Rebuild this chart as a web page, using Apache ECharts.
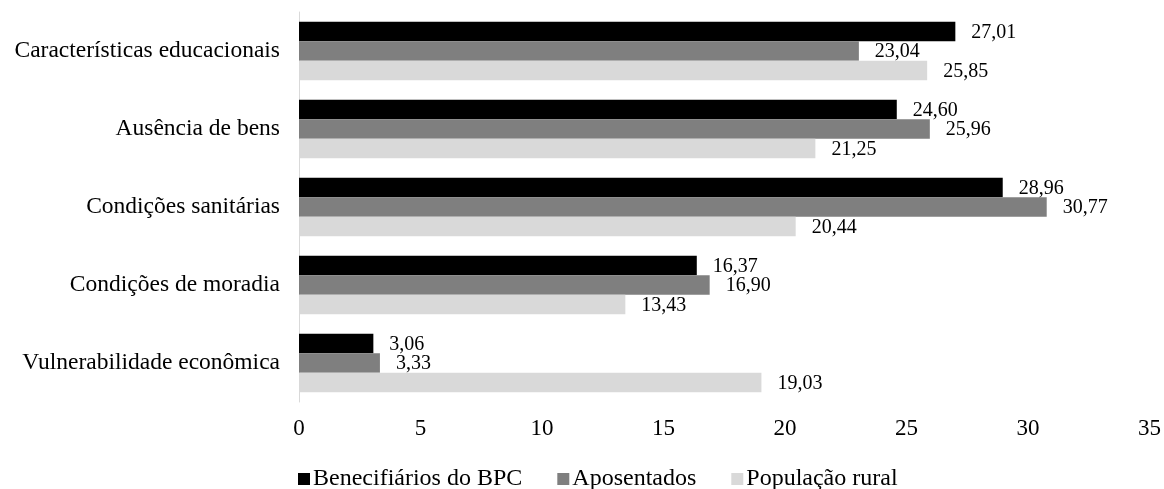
<!DOCTYPE html>
<html>
<head>
<meta charset="utf-8">
<style>
  html, body { margin: 0; padding: 0; background: #ffffff; }
  #chart { width: 1164px; height: 489px; }
</style>
<script src="https://cdn.jsdelivr.net/npm/echarts@6/dist/echarts.min.js"></script>
</head>
<body>
<div id="chart"></div>
<script>
// Dimensions of deprivation, listed top to bottom
const categories = [
  'Características educacionais',
  'Ausência de bens',
  'Condições sanitárias',
  'Condições de moradia',
  'Vulnerabilidade econômica'
];
const seriesNames = ['Benecifiários do BPC', 'Aposentados', 'População rural'];
const bpc = [27.01, 24.60, 28.96, 16.37, 3.06];
const aposentados = [23.04, 25.96, 30.77, 16.90, 3.33];
const rural = [25.85, 21.25, 20.44, 13.43, 19.03];
const xTicks = [0, 5, 10, 15, 20, 25, 30, 35];

const colors = ['#000000', '#7f7f7f', '#d9d9d9'];
const serif = '"Liberation Serif", "DejaVu Serif", serif';

// category axis is drawn bottom-up, so reverse for top-down order
const cats = categories.slice().reverse();
const rev = a => a.slice().reverse();

function barSeries(name, values, color) {
  return {
    name: name,
    type: 'bar',
    data: rev(values),
    barGap: '0%',
    barCategoryGap: '25%',
    itemStyle: { color: color },
    label: {
      show: true,
      position: 'right',
      distance: 16,
      offset: [0, 1],
      color: '#000',
      fontFamily: serif,
      fontSize: 20,
      formatter: p => p.value.toFixed(2).replace('.', ',')
    }
  };
}

const chart = echarts.init(document.getElementById('chart'), null, { renderer: 'canvas' });
chart.setOption({
  animation: false,
  textStyle: { fontFamily: serif },
  grid: { left: 299, right: 13, top: 12, bottom: 87, containLabel: false },
  legend: {
    top: 467,
    left: 298,
    padding: 0,
    icon: 'rect',
    itemWidth: 12,
    itemHeight: 12,
    itemGap: 35,
    textStyle: { fontFamily: serif, fontSize: 24, color: '#000', padding: [0, 0, 0, -2] },
    data: seriesNames
  },
  xAxis: {
    type: 'value',
    min: xTicks[0],
    max: xTicks[xTicks.length - 1],
    interval: 5,
    axisLine: { show: false },
    axisTick: { show: false },
    splitLine: { show: false },
    axisLabel: { color: '#000', fontFamily: serif, fontSize: 23, margin: 15 }
  },
  yAxis: {
    type: 'category',
    data: cats,
    axisLine: { show: true, lineStyle: { color: '#d9d9d9', width: 1 } },
    axisTick: { show: false },
    axisLabel: { color: '#000', fontFamily: serif, fontSize: 23.5, margin: 19 }
  },
  series: [
    barSeries(seriesNames[0], bpc, colors[0]),
    barSeries(seriesNames[1], aposentados, colors[1]),
    barSeries(seriesNames[2], rural, colors[2])
  ]
});
</script>
</body>
</html>
